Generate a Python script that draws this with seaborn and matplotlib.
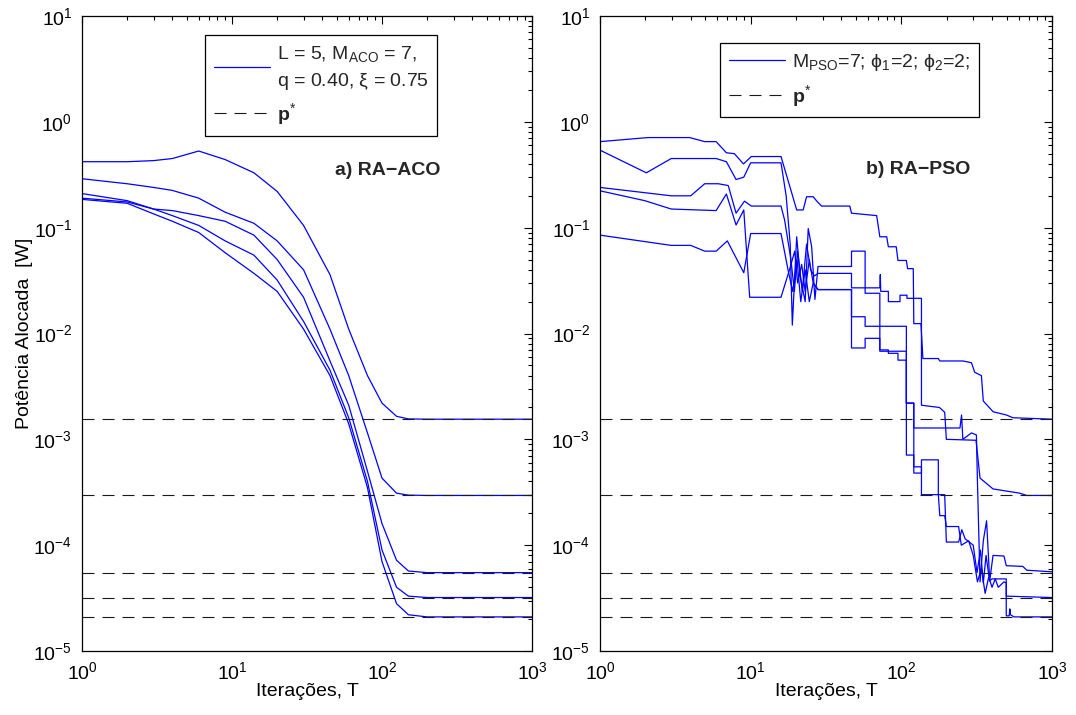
import numpy as np
import pandas as pd
import matplotlib
matplotlib.use("Agg")
import matplotlib.pyplot as plt
import seaborn as sns
from matplotlib.lines import Line2D
from matplotlib.ticker import FixedLocator, LogFormatterSciNotation, NullFormatter

# ---------------- data ----------------
p_star = [1.55e-3, 2.95e-4, 5.5e-5, 3.2e-5, 2.1e-5]

aco_T = [1, 2, 3, 4, 6, 9, 14, 20, 30, 45, 60, 80, 100, 125, 150, 200, 1000]
aco_p1 = [0.42, 0.42, 0.43, 0.45, 0.53, 0.44, 0.33, 0.22, 0.105, 0.036, 0.011, 4.0e-3, 2.2e-3, 1.65e-3, 1.56e-3, 1.55e-3, 1.55e-3]
aco_p2 = [0.29, 0.26, 0.24, 0.225, 0.19, 0.14, 0.11, 0.075, 0.04, 0.011, 4.0e-3, 1.15e-3, 4.3e-4, 3.1e-4, 2.97e-4, 2.95e-4, 2.95e-4]
aco_p3 = [0.21, 0.18, 0.15, 0.145, 0.13, 0.115, 0.085, 0.05, 0.022, 5.5e-3, 2.1e-3, 5e-4, 1.6e-4, 7.2e-5, 5.7e-5, 5.5e-5, 5.5e-5]
aco_p4 = [0.19, 0.175, 0.15, 0.13, 0.105, 0.075, 0.055, 0.032, 0.013, 4.5e-3, 1.6e-3, 4e-4, 9e-5, 4e-5, 3.3e-5, 3.2e-5, 3.2e-5]
aco_p5 = [0.185, 0.17, 0.135, 0.115, 0.09, 0.058, 0.037, 0.025, 0.011, 4.0e-3, 1.4e-3, 3.5e-4, 7e-5, 2.8e-5, 2.2e-5, 2.1e-5, 2.1e-5]

pso_T_a = [1, 2.08, 3.94, 4.95, 5.9, 6.9, 7.8, 8.96, 10.1, 15.9, 18.6, 20.2, 22.3, 23.5, 26, 27.3, 29.5, 45.5, 46.7, 68.6,
           72, 80, 82, 92.5, 95, 108, 110, 120, 121, 135, 139, 176, 180, 256, 292, 307, 340, 350, 407, 497, 550, 1000]
pso_p_a = [0.65, 0.71, 0.71, 0.65, 0.65, 0.51, 0.50, 0.40, 0.47, 0.47, 0.22, 0.147, 0.147, 0.196, 0.196, 0.18, 0.16, 0.16, 0.137, 0.13,
           0.082, 0.082, 0.066, 0.066, 0.049, 0.049, 0.041, 0.041, 0.0124, 0.0124, 5.8e-3, 5.8e-3, 5.5e-3, 5.5e-3, 5.3e-3, 4.3e-3, 4.0e-3, 2.3e-3, 1.82e-3, 1.7e-3, 1.6e-3, 1.55e-3]

pso_T_b = [1, 2.03, 2.97, 5.9, 6.9, 8.0, 9.0, 10.0, 15.9, 17.2, 18.3, 18.9, 20.2, 21.3, 23, 24.1, 25.4, 26.7, 28, 46.7,
           46.7, 57.5, 57.5, 72, 72.5, 73, 82, 82, 98, 98, 109, 109, 136, 136, 179, 194, 199, 313, 333, 406, 610, 680, 1000]
pso_p_b = [0.54, 0.33, 0.45, 0.45, 0.42, 0.285, 0.30, 0.41, 0.41, 0.2, 0.07, 0.012, 0.082, 0.035, 0.02, 0.098, 0.066, 0.021, 0.043, 0.043,
           0.06, 0.06, 0.027, 0.027, 0.036, 0.025, 0.025, 0.02, 0.02, 0.023, 0.023, 0.0215, 0.0215, 2.1e-3, 2.0e-3, 1.8e-3, 1.0e-3, 0.98e-3, 4.3e-4, 3.4e-4, 3.1e-4, 2.95e-4, 2.95e-4]

pso_T_c = [1, 2.97, 4.0, 4.95, 6.1, 7.1, 8.0, 9.1, 10.1, 15.9, 16.8, 18.5, 19.5, 20.5, 22, 23.5, 25, 26.5, 28, 46.7,
           46.7, 57.5, 57.5, 72, 72, 108, 108, 121, 121, 245, 251, 256, 292, 315, 320, 333, 350, 368, 386, 406, 480, 497, 640, 680, 1000]
pso_p_c = [0.24, 0.20, 0.20, 0.26, 0.26, 0.25, 0.137, 0.178, 0.16, 0.16, 0.118, 0.05, 0.025, 0.06, 0.025, 0.07, 0.04, 0.035, 0.037, 0.037,
           0.027, 0.027, 0.024, 0.024, 0.0117, 0.0117, 2.2e-3, 2.2e-3, 1.28e-3, 1.28e-3, 1.7e-3, 1.0e-3, 1.15e-3, 1.1e-3, 4e-4, 4.5e-5, 1.1e-4, 1.7e-4, 4.6e-5, 8e-5, 7.9e-5, 6.4e-5, 6.3e-5, 5.8e-5, 5.6e-5]

pso_T_d = [1, 1.98, 2.97, 5.9, 6.9, 8.0, 9.0, 9.85, 15.9, 18.1, 19.6, 20.5, 21.8, 23, 24.5, 26, 28, 46.7, 46.7, 57.5,
           57.5, 72, 72, 82, 82, 95, 95, 108, 108, 121, 121, 136, 136, 176, 176, 194, 199, 240, 252, 265,
           300, 318, 335, 350, 365, 385, 400, 497, 497, 1000]
pso_p_d = [0.223, 0.18, 0.15, 0.145, 0.208, 0.106, 0.147, 0.022, 0.022, 0.04, 0.06, 0.03, 0.045, 0.025, 0.05, 0.03, 0.026, 0.026, 0.0144, 0.0144,
           0.0117, 0.0117, 7e-3, 7e-3, 6.5e-3, 6.5e-3, 5.6e-3, 5.6e-3, 7.1e-4, 7.1e-4, 4.8e-4, 4.8e-4, 6.4e-4, 6.4e-4, 3.0e-4, 3.0e-4, 1.07e-4, 1.07e-4, 1.4e-4, 1.15e-4,
           1.0e-4, 5.5e-5, 9e-5, 4.4e-5, 8e-5, 4.6e-5, 4.8e-5, 4.8e-5, 3.3e-5, 3.2e-5]

pso_T_e = [1, 2.97, 4.0, 4.95, 5.9, 7.0, 9.0, 10.0, 15.9, 17.7, 19, 20.3, 21.5, 23, 24.5, 26, 28, 46.7, 46.7, 57.5,
           57.5, 72, 72, 108, 108, 121, 121, 136, 136, 176, 180, 194, 199, 240, 250, 280, 300, 320, 340, 360,
           380, 400, 420, 440, 480, 497, 497, 520, 525, 530, 560, 1000]
pso_p_e = [0.085, 0.068, 0.068, 0.060, 0.060, 0.075, 0.0375, 0.088, 0.088, 0.04, 0.025, 0.05, 0.02, 0.04, 0.02, 0.03, 0.026, 0.026, 7.3e-3, 7.3e-3,
           9e-3, 9e-3, 6.8e-3, 6.8e-3, 2.2e-3, 2.2e-3, 5.5e-4, 5.5e-4, 3.0e-4, 3.0e-4, 1.9e-4, 1.9e-4, 1.5e-4, 1.5e-4, 1.0e-4, 1.1e-4, 8e-5, 4.5e-5, 6e-5, 3.5e-5,
           5e-5, 4.0e-5, 4.8e-5, 4.0e-5, 4.5e-5, 4.4e-5, 2.15e-5, 2.15e-5, 2.5e-5, 2.2e-5, 2.1e-5, 2.1e-5]

x_decades = [1, 10, 100, 1000]
y_decades = [1e-5, 1e-4, 1e-3, 1e-2, 1e-1, 1, 10]

aco_curves = [aco_p1, aco_p2, aco_p3, aco_p4, aco_p5]
pso_curves = [(pso_T_a, pso_p_a), (pso_T_b, pso_p_b), (pso_T_c, pso_p_c), (pso_T_d, pso_p_d), (pso_T_e, pso_p_e)]

aco_df = pd.concat([pd.DataFrame({"T": aco_T, "p": p, "curve": i}) for i, p in enumerate(aco_curves)], ignore_index=True)
pso_df = pd.concat([pd.DataFrame({"T": t, "p": p, "curve": i}) for i, (t, p) in enumerate(pso_curves)], ignore_index=True)

# ---------------- style ----------------
sns.set_theme(style="white")
plt.rcParams["font.family"] = ["Liberation Sans", "DejaVu Sans"]
plt.rcParams["mathtext.fontset"] = "custom"
plt.rcParams["mathtext.rm"] = "Liberation Sans"
plt.rcParams["mathtext.it"] = "Liberation Sans:italic"
plt.rcParams["mathtext.bf"] = "Liberation Sans:bold"

BLUE = "#0000ff"
DASH = (0, (10.8, 7.2))
FS = 14


def minor_ticks(decades):
    return [d * k for d in decades[:-1] for k in range(2, 10)]


fig = plt.figure(figsize=(10.76, 7.15), dpi=100)
ax1 = fig.add_axes([82 / 1076, 64 / 715, 450 / 1076, 635 / 715])
ax2 = fig.add_axes([600 / 1076, 64 / 715, 452 / 1076, 635 / 715])

sns.lineplot(data=aco_df, x="T", y="p", units="curve", estimator=None, sort=False,
             color=BLUE, lw=0.9, ax=ax1, legend=False)
sns.lineplot(data=pso_df, x="T", y="p", units="curve", estimator=None, sort=False,
             color=BLUE, lw=0.9, ax=ax2, legend=False)

for ax in (ax1, ax2):
    for v in p_star:
        ax.axhline(v, color="#1a1a1a", lw=0.8, ls=DASH, zorder=5)
    ax.set_xscale("log")
    ax.set_yscale("log")
    ax.set_xlim(1, 1000)
    ax.set_ylim(1e-5, 10)
    ax.xaxis.set_major_locator(FixedLocator(x_decades))
    ax.yaxis.set_major_locator(FixedLocator(y_decades))
    ax.xaxis.set_minor_locator(FixedLocator(minor_ticks(x_decades)))
    ax.yaxis.set_minor_locator(FixedLocator(minor_ticks(y_decades)))
    ax.xaxis.set_major_formatter(LogFormatterSciNotation())
    ax.yaxis.set_major_formatter(LogFormatterSciNotation())
    ax.xaxis.set_minor_formatter(NullFormatter())
    ax.yaxis.set_minor_formatter(NullFormatter())
    ax.tick_params(which="both", direction="in", top=True, right=True, colors="black",
                   labelsize=FS, width=0.8)
    ax.tick_params(which="major", length=6, pad=7)
    ax.tick_params(which="minor", length=3)
    for s in ax.spines.values():
        s.set_color("black")
        s.set_linewidth(0.9)
    ax.set_xlabel("Iterações, T", fontsize=FS, labelpad=0, color="black")
    ax.set_ylabel("")
    ax.set_facecolor("white")

ax1.set_ylabel("Potência Alocada  [W]", fontsize=FS, labelpad=0, color="black")

ax1.text(0.68, 0.757, "a) RA\u2212ACO", transform=ax1.transAxes, ha="center", va="center",
         fontsize=FS, fontweight="bold")
ax2.text(0.703, 0.758, "b) RA\u2212PSO", transform=ax2.transAxes, ha="center", va="center",
         fontsize=FS, fontweight="bold")

h_line = Line2D([], [], color=BLUE, lw=0.9)
h_dash = Line2D([], [], color="#1a1a1a", lw=0.8, ls=DASH)

leg_kw = dict(fontsize=FS, frameon=True, fancybox=False, framealpha=1, edgecolor="black",
              handlelength=2.9, handletextpad=0.35, borderpad=0.45, labelspacing=0.5,
              borderaxespad=0)
lg1 = ax1.legend([h_line, h_dash],
                 ["L = 5, M$_{\\mathrm{ACO}}$ = 7,\nq = 0.40, $\\mathrm{\\xi}$ = 0.75", "$\\mathbf{p}^{*}$"],
                 loc="upper left", bbox_to_anchor=(0.273, 0.970), **leg_kw)
lg1.get_texts()[0].set_linespacing(1.45)
lg2 = ax2.legend([h_line, h_dash],
                 ["M$_{\\mathrm{PSO}}$=7; $\\mathrm{\\phi}_{1}$=2; $\\mathrm{\\phi}_{2}$=2;", "$\\mathbf{p}^{*}$"],
                 loc="upper left", bbox_to_anchor=(0.265, 0.957), **leg_kw)
for lg in (lg1, lg2):
    lg.get_frame().set_linewidth(0.9)

fig.savefig("out.png", dpi=100, facecolor="white")
